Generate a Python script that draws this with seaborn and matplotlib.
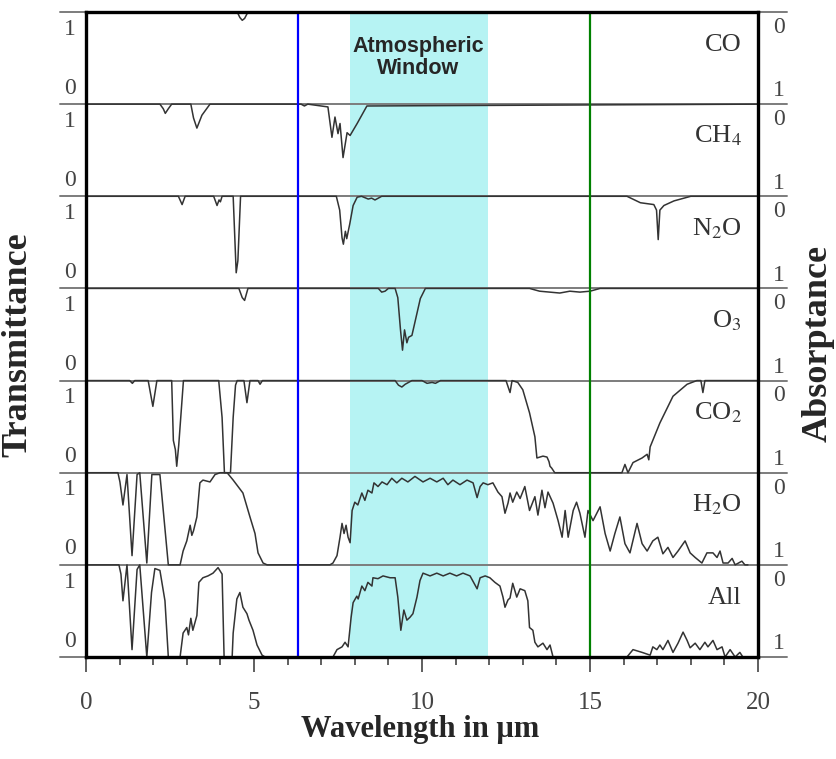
import matplotlib
matplotlib.use("Agg")
import matplotlib.pyplot as plt
from matplotlib.ticker import MultipleLocator
import seaborn as sns
import pandas as pd

# panels from top to bottom
gases = ["CO", "CH$_4$", "N$_2$O", "O$_3$", "CO$_2$", "H$_2$O", "All"]

co_wl = [0, 4.5, 4.58, 4.65, 4.72, 4.82, 20]
co_t = [1, 1, 0.94, 0.91, 0.93, 1, 1]

ch4_wl = [0, 2.2, 2.3, 2.36, 2.45, 2.55, 3.12, 3.2, 3.3, 3.45, 3.69, 6.4, 6.5, 6.6,
          7.2, 7.32, 7.41, 7.5, 7.56, 7.65, 7.77, 7.86, 8.07, 8.36, 20]
ch4_t = [1, 1, 0.95, 0.9, 0.95, 1, 1, 0.85, 0.74, 0.88, 1, 1, 0.98, 1,
         0.97, 0.64, 0.86, 0.68, 0.79, 0.42, 0.69, 0.66, 0.79, 0.98, 1]

n2o_wl = [0, 2.75, 2.86, 2.95, 3.8, 3.9, 3.96, 4.0, 4.05, 4.38, 4.47, 4.52, 4.6,
          7.45, 7.55, 7.62, 7.66, 7.72, 7.76, 7.85, 7.95, 8.07, 8.2, 8.4, 8.5, 8.6,
          8.7, 8.8, 16.1, 16.5, 16.9, 16.98, 17.03, 17.08, 17.2, 17.5, 18.0, 20]
n2o_t = [1, 1, 0.91, 1, 1, 0.9, 0.96, 0.94, 1, 1, 0.17, 0.3, 1,
         1, 0.85, 0.55, 0.48, 0.62, 0.54, 0.7, 0.9, 0.99, 1, 0.97, 0.98, 0.96,
         0.98, 1, 1, 0.93, 0.91, 0.85, 0.53, 0.85, 0.9, 0.95, 1, 1]

o3_wl = [0, 4.55, 4.65, 4.72, 4.82, 8.7, 8.8, 8.9, 9.0, 9.2, 9.28, 9.36, 9.42,
         9.48, 9.55, 9.6, 9.7, 9.85, 9.95, 10.1, 13.2, 13.5, 13.8, 14.1, 14.4,
         14.7, 15.0, 15.3, 20]
o3_t = [1, 1, 0.9, 0.87, 1, 1, 0.96, 0.97, 1, 1, 0.9, 0.55, 0.33,
        0.55, 0.41, 0.47, 0.49, 0.73, 0.89, 1, 1, 0.97, 0.96, 0.95, 0.97,
        0.96, 0.97, 1, 1]

co2_wl = [0, 1.3, 1.38, 1.45, 1.85, 1.99, 2.11, 2.55, 2.6, 2.66, 2.7, 2.76,
          2.84, 2.9, 3.95, 4.05, 4.12, 4.3, 4.38, 4.45, 4.5, 4.7, 4.79, 4.88,
          5.12, 5.18, 5.25, 9.2, 9.3, 9.4, 9.5, 9.6, 9.7, 10.0, 10.15, 10.3,
          10.4, 10.55, 12.5, 12.62, 12.68, 12.85, 13.0, 13.2, 13.36, 13.42,
          13.6, 13.72, 13.78, 13.81, 13.86, 13.95, 15.95, 16.04, 16.13, 16.28,
          16.55, 16.7, 16.75, 16.79, 17.08, 17.47, 17.89, 18.18, 18.3, 18.36,
          18.42, 20]
co2_t = [1, 1, 0.97, 1, 1, 0.72, 1, 1, 0.35, 0.25, 0.07, 0.3,
         0.7, 1, 1, 0.6, 0, 0, 0.6, 0.95, 1, 1, 0.76, 1,
         1, 0.96, 1, 1, 0.95, 0.93, 0.96, 0.98, 1, 1, 0.97, 0.98,
         0.97, 1, 1, 0.87, 1, 0.98, 0.9, 0.65, 0.39, 0.16,
         0.18, 0.17, 0.12, 0.07, 0.05, 0, 0, 0.09, 0, 0.11,
         0.16, 0.2, 0.14, 0.28, 0.54, 0.83, 0.96, 1, 1, 0.87,
         1, 1]

h2o_wl = [0, 0.95, 1.01, 1.1, 1.22, 1.37, 1.52, 1.6, 1.81, 1.96, 2.2, 2.45,
          2.8, 2.89, 3.0, 3.1, 3.15, 3.2, 3.3, 3.39, 3.48, 3.69, 3.84, 3.99,
          4.2, 4.38, 4.67, 4.88, 5.03, 5.12, 5.27, 5.39, 7.26, 7.35, 7.47,
          7.56, 7.62, 7.68, 7.74, 7.8, 7.86, 7.92, 8.0, 8.09, 8.21, 8.3, 8.39,
          8.51, 8.57, 8.69, 8.81, 8.96, 9.1, 9.25, 9.4, 9.58, 9.79, 10.03,
          10.24, 10.44, 10.63, 10.77, 10.92, 11.13, 11.34, 11.52, 11.64, 11.73,
          11.82, 11.96, 12.11, 12.26, 12.38, 12.47, 12.56, 12.62, 12.7, 12.82,
          12.92, 13.06, 13.2, 13.36, 13.45, 13.57, 13.66, 13.75, 13.9, 14.05,
          14.17, 14.26, 14.35, 14.5, 14.6, 14.7, 14.85, 14.94, 15.09, 15.3,
          15.45, 15.6, 15.74, 15.89, 16.04, 16.19, 16.4, 16.55, 16.7, 16.87,
          17.02, 17.17, 17.32, 17.47, 17.62, 17.83, 17.98, 18.13, 18.33, 18.48,
          18.66, 18.78, 18.87, 18.96, 19.11, 19.23, 19.32, 19.52, 19.61, 19.7]
h2o_t = [1, 1, 0.9, 0.65, 0.98, 0.1, 0.98, 1, 0.02, 0.98, 0.98, 0,
         0, 0.15, 0.26, 0.43, 0.32, 0.37, 0.52, 0.89, 0.92, 0.9, 0.98, 1,
         1, 0.92, 0.78, 0.52, 0.34, 0.13, 0.02, 0, 0, 0.02, 0.1,
         0.3, 0.45, 0.34, 0.43, 0.3, 0.24, 0.59, 0.68, 0.65, 0.78, 0.7, 0.81,
         0.78, 0.89, 0.85, 0.9, 0.87, 0.94, 0.89, 0.94, 0.9, 0.96, 0.9,
         0.94, 0.9, 0.94, 0.87, 0.92, 0.87, 0.92, 0.89, 0.73, 0.85,
         0.89, 0.87, 0.89, 0.79, 0.74, 0.56, 0.67, 0.78, 0.68, 0.79,
         0.72, 0.85, 0.59, 0.74, 0.54, 0.81, 0.62, 0.79, 0.67, 0.48,
         0.3, 0.59, 0.3, 0.59, 0.68, 0.56, 0.3, 0.59, 0.48, 0.63,
         0.34, 0.15, 0.34, 0.52, 0.23, 0.13, 0.45, 0.23, 0.15, 0.26,
         0.3, 0.12, 0.19, 0.08, 0.15, 0.26, 0.13, 0.08, 0.02, 0.13,
         0.13, 0.08, 0.15, 0.02, 0.02, 0.07, 0, 0.04, 0, 0]

all_wl = [0, 0.98, 1.04, 1.1, 1.22, 1.37, 1.52, 1.6, 1.81, 1.95, 2.05, 2.2,
          2.35, 2.45, 2.8, 2.89, 3.0, 3.05, 3.12, 3.18, 3.3, 3.36, 3.48, 3.63,
          3.78, 3.93, 4.05, 4.11, 4.35, 4.38, 4.49, 4.58, 4.67, 4.79, 4.85,
          4.97, 5.09, 5.24, 5.33, 7.35, 7.47, 7.62, 7.71, 7.8, 7.89, 7.95, 8.06,
          8.1, 8.21, 8.3, 8.39, 8.51, 8.54, 8.69, 8.84, 9.05, 9.2, 9.28, 9.37,
          9.46, 9.55, 9.64, 9.73, 9.85, 9.94, 10.03, 10.24, 10.44, 10.63, 10.83,
          11.03, 11.22, 11.43, 11.64, 11.73, 11.88, 12.02, 12.17, 12.32, 12.41,
          12.47, 12.56, 12.62, 12.7, 12.82, 12.92, 13.06, 13.15, 13.2, 13.3,
          13.36, 13.45, 13.6, 13.72, 13.81, 13.9, 16.1, 16.28, 16.55, 16.79,
          16.87, 16.99, 17.08, 17.17, 17.32, 17.47, 17.62, 17.77, 17.89, 17.98,
          18.13, 18.27, 18.42, 18.51, 18.66, 18.78, 18.93, 19.02, 19.17, 19.32,
          19.46, 19.55, 19.7]
all_t = [1, 1, 0.9, 0.61, 1.0, 0.08, 0.95, 1.0, 0, 0.7, 0.96, 0.94,
         0.61, 0, 0, 0.26, 0.32, 0.24, 0.42, 0.29, 0.45, 0.81, 0.86, 0.88,
         0.91, 0.97, 0.9, 0, 0, 0.26, 0.63, 0.7, 0.54, 0.47, 0.4,
         0.29, 0.13, 0.02, 0, 0, 0.08, 0.11, 0.16, 0.11, 0.43, 0.59, 0.66,
         0.63, 0.77, 0.72, 0.81, 0.77, 0.86, 0.85, 0.88, 0.86, 0.86, 0.65, 0.29,
         0.51, 0.4, 0.43, 0.47, 0.65, 0.83, 0.91, 0.88, 0.91, 0.88, 0.91,
         0.88, 0.91, 0.88, 0.74, 0.86, 0.88, 0.86, 0.81, 0.77, 0.65,
         0.54, 0.62, 0.64, 0.8, 0.65, 0.74, 0.72, 0.61, 0.32, 0.29,
         0.16, 0.11, 0.15, 0.08, 0.13, 0, 0, 0.08, 0.05, 0.02,
         0.11, 0.08, 0.13, 0.08, 0.18, 0.05, 0.15, 0.27, 0.18, 0.1,
         0.15, 0.08, 0.16, 0.11, 0.18, 0.08, 0.11, 0, 0.08, 0,
         0.05, 0, 0]

wavelengths = [co_wl, ch4_wl, n2o_wl, o3_wl, co2_wl, h2o_wl, all_wl]
transmittance = [co_t, ch4_t, n2o_t, o3_t, co2_t, h2o_t, all_t]

window_lo, window_hi = 7.85, 11.95
blue_line = 6.3
green_line = 15

sns.set_style("white")
plt.rcParams["font.family"] = ["Liberation Serif", "DejaVu Serif"]
plt.rcParams["mathtext.fontset"] = "stix"

n = len(gases)
frames = []
for i, (g, wl, t) in enumerate(zip(gases, wavelengths, transmittance)):
    offset = n - 1 - i
    d = pd.DataFrame({"wavelength": wl, "T": t})
    d["gas"] = g
    d["y"] = d["T"] + offset
    frames.append(d)
df = pd.concat(frames, ignore_index=True)

fig = plt.figure(figsize=(8.36, 7.59), dpi=100)
ax = fig.add_axes([86 / 836, 1 - 657 / 759, 672 / 836, 645 / 759])

ax.axvspan(window_lo, window_hi, color="#b6f3f3", lw=0, zorder=0)

# gray baselines between the panels, running a bit past the frame
for k in range(n + 1):
    ax.axhline(k, xmin=-0.039, xmax=1.043, color="#7c7c7c", lw=1.4,
               clip_on=False, zorder=2)

sns.lineplot(data=df, x="wavelength", y="y", units="gas", estimator=None,
             sort=False, color="#333333", lw=1.1, ax=ax, legend=False, zorder=3)

ax.axvline(blue_line, color="#0000ff", lw=1.6, zorder=4)
ax.axvline(green_line, color="#008000", lw=1.6, zorder=4)

ax.set_xlim(0, 20)
ax.set_ylim(0, n)
ax.set_xlabel("")
ax.set_ylabel("")

ax.set_xticks([0, 5, 10, 15, 20])
ax.xaxis.set_minor_locator(MultipleLocator(1))
ax.tick_params(axis="x", which="major", direction="out", length=11, width=1.2,
               color="#444444", pad=14, labelsize=18, labelcolor="#444444",
               bottom=True)
ax.tick_params(axis="x", which="minor", direction="out", length=6, width=1.2,
               color="#444444", bottom=True)

left_pos, left_lab = [], []
for k in range(n):
    left_pos += [k + 0.2, k + 0.84]
    left_lab += ["0", "1"]
ax.set_yticks(left_pos)
ax.set_yticklabels(left_lab)
ax.tick_params(axis="y", length=0, pad=7, labelsize=17, labelcolor="#444444")

ax2 = ax.twinx()
ax2.set_ylim(0, n)
right_pos, right_lab = [], []
for k in range(n):
    right_pos += [k + 0.17, k + 0.86]
    right_lab += ["1", "0"]
ax2.set_yticks(right_pos)
ax2.set_yticklabels(right_lab)
ax2.tick_params(axis="y", length=0, pad=11, labelsize=17, labelcolor="#444444")
for s in ax2.spines.values():
    s.set_visible(False)

for s in ax.spines.values():
    s.set_visible(True)
    s.set_color("black")
    s.set_linewidth(2.4)
    s.set_zorder(6)

for i, g in enumerate(gases):
    ax.text(19.52, n - 1 - i + 0.58, g, ha="right", va="baseline",
            fontsize=19, color="#333333", zorder=5)

ax.text(9.88, 6.51, "Atmospheric\nWindow", ha="center", va="center",
        family=["Liberation Sans", "DejaVu Sans"], weight="bold", fontsize=15.5,
        linespacing=1.05, zorder=5)

fig.text(18 / 836, 1 - 345 / 759, "Transmittance", rotation=90, ha="center",
         va="center", fontsize=26, fontweight="bold")
fig.text(818 / 836, 1 - 344 / 759, "Absorptance", rotation=90, ha="center",
         va="center", fontsize=26, fontweight="bold")
fig.text(420 / 836, 1 - 729 / 759, "Wavelength in μm", ha="center",
         va="center", fontsize=22, fontweight="bold")

fig.savefig("out.png", dpi=100)
